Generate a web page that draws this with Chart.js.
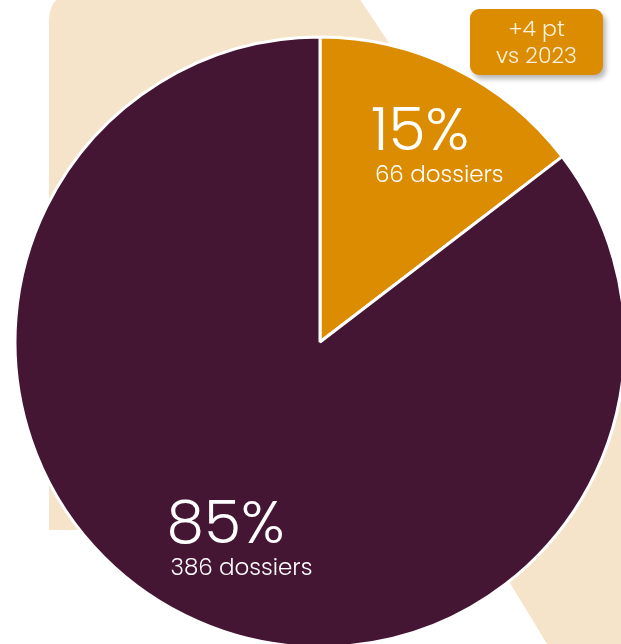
<!DOCTYPE html>
<html>
<head>
<meta charset="utf-8">
<script src="https://cdn.jsdelivr.net/npm/chart.js@4/dist/chart.umd.min.js"></script>
<style>
  html, body { margin: 0; padding: 0; background: #fff; }
  #wrap { position: relative; width: 621px; height: 644px; overflow: hidden; }
  #chart { position: absolute; left: 0; top: 0; }
  .badge {
    position: absolute; left: 470px; top: 9px; width: 133px; height: 66px;
    background: #db8c00; border-radius: 9px;
    box-shadow: 3px 4px 5px rgba(0,0,0,0.28);
    color: #fdf1df; font-family: Poppins, Inter, sans-serif; font-weight: 300;
    font-size: 22px; line-height: 27px; text-align: center;
    display: flex; flex-direction: column; justify-content: center;
  }
</style>
</head>
<body>
<div id="wrap">
  <canvas id="chart" width="621" height="644"></canvas>
  <div class="badge"><div>+4 pt</div><div>vs 2023</div></div>
</div>
<script>
  "use strict";

  var categories = ["Avec", "Sans"];
  var dossiers = [66, 386];
  var pourcentages = ["15%", "85%"];
  var couleurs = ["#db8c00", "#451634"];

  // forme beige décorative derrière le camembert
  var fondBeige = {
    id: "fondBeige",
    beforeDatasetsDraw: function (chart) {
      var ctx = chart.ctx;
      ctx.save();
      ctx.fillStyle = "#f5e4ca";
      ctx.beginPath();
      ctx.moveTo(49, 530);
      ctx.lineTo(49, 20);
      ctx.quadraticCurveTo(50, -6, 75, -8);
      ctx.lineTo(355, -8);
      ctx.lineTo(387, 40);
      ctx.lineTo(720, 520);
      ctx.lineTo(720, 700);
      ctx.lineTo(580, 700);
      ctx.lineTo(547, 644);
      ctx.lineTo(510, 583);
      ctx.lineTo(480, 530);
      ctx.closePath();
      ctx.fill();
      ctx.restore();
    }
  };

  var etiquettes = {
    id: "etiquettes",
    afterDatasetsDraw: function (chart) {
      var ctx = chart.ctx;
      var arcs = chart.getDatasetMeta(0).data;
      var facteurs = [0.74, 0.7];
      ctx.save();
      ctx.fillStyle = "#ffffff";
      ctx.textBaseline = "alphabetic";
      arcs.forEach(function (arc, i) {
        var mid = (arc.startAngle + arc.endAngle) / 2;
        var r = arc.outerRadius * facteurs[i];
        var cx = arc.x + Math.cos(mid) * r;
        var cy = arc.y + Math.sin(mid) * r;
        ctx.font = "300 60px Poppins, Inter, sans-serif";
        var w = ctx.measureText(pourcentages[i]).width;
        var x0 = cx - w / 2;
        ctx.textAlign = "left";
        ctx.fillText(pourcentages[i], x0, cy + 10);
        ctx.font = "300 23px Poppins, Inter, sans-serif";
        ctx.fillText(dossiers[i] + " dossiers", x0 + 4, cy + 42);
      });
      ctx.restore();
    }
  };

  new Chart(document.getElementById("chart"), {
    type: "pie",
    data: {
      labels: categories,
      datasets: [
        {
          data: dossiers,
          backgroundColor: couleurs,
          borderColor: "#ffffff",
          borderWidth: 3,
          clip: false
        }
      ]
    },
    options: {
      responsive: false,
      animation: false,
      radius: 305,
      layout: { padding: { left: 19, top: 40, right: 0, bottom: 0 } },
      plugins: {
        legend: { display: false },
        tooltip: { enabled: false }
      }
    },
    plugins: [fondBeige, etiquettes]
  });
</script>
</body>
</html>
